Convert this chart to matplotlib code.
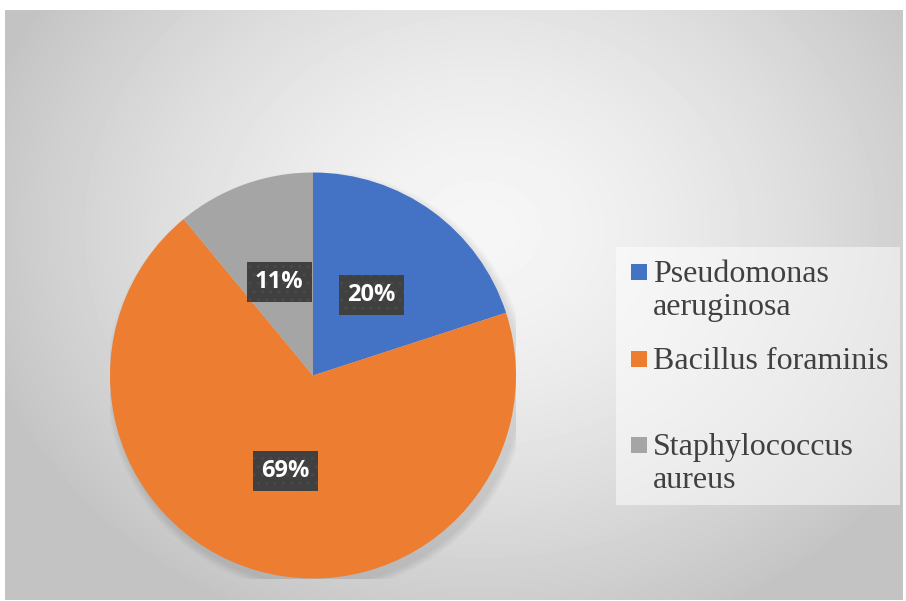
import numpy as np
import matplotlib.pyplot as plt
from matplotlib.patches import Rectangle, Circle

labels = ["Pseudomonas\naeruginosa", "Bacillus foraminis", "Staphylococcus\naureus"]
shares = [20, 69, 11]
colors = ["#4472c4", "#ed7d31", "#a5a5a5"]

W, H = 906, 601
fig = plt.figure(figsize=(W / 100, H / 100), dpi=100)
fig.patch.set_facecolor("white")

# chart area with radial gray gradient
x0, y0, x1, y1 = 5, 10, 903, 600
bg = fig.add_axes([x0 / W, 1 - y1 / H, (x1 - x0) / W, (y1 - y0) / H])
bg.axis("off")
yy, xx = np.mgrid[y0:y1, x0:x1]
d = np.sqrt(((xx - 480) / 520.0) ** 2 + ((yy - 230) / 430.0) ** 2)
d = np.clip(d, 0, 1)
shade = 0.965 - 0.2 * d ** 1.5
bg.imshow(shade, cmap="gray", vmin=0, vmax=1, aspect="auto", interpolation="bilinear")

# pie
cx, cy, r = 313, 375.5, 203
ax = fig.add_axes([(cx - r) / W, 1 - (cy + r) / H, 2 * r / W, 2 * r / H])

# soft shadow
for i in range(8):
    ax.add_patch(Circle((0.02, -0.03), 1.0 + 0.005 * (8 - i), color="black",
                        alpha=0.01, lw=0, zorder=0))

wedges, texts, autotexts = ax.pie(
    shares, colors=colors, startangle=90, counterclock=False, radius=1,
    autopct="%d%%", pctdistance=0.49,
    wedgeprops=dict(linewidth=0), frame=False)
ax.set_xlim(-1, 1)
ax.set_ylim(-1, 1)
ax.set_aspect("equal")
ax.axis("off")

for t in autotexts:
    t.set_color("white")
    t.set_fontfamily("Open Sans")
    t.set_fontweight("bold")
    t.set_fontsize(17)
    t.set_bbox(dict(boxstyle="square,pad=0.35", fc="#404040", ec="#4a4a4a",
                    lw=0, hatch=".."))

# legend box (drawn by hand to follow the uneven Excel spacing)
lx0, ly0, lx1, ly1 = 616, 247, 900, 505
fig.patches.append(Rectangle((lx0 / W, 1 - ly1 / H), (lx1 - lx0) / W, (ly1 - ly0) / H,
                             transform=fig.transFigure, fc="white", alpha=0.5, lw=0))
rows = [272, 359, 445]
for lab, col, ry in zip(labels, colors, rows):
    fig.patches.append(Rectangle((631 / W, 1 - (ry + 8) / H), 16 / W, 16 / H,
                                 transform=fig.transFigure, fc=col, lw=0))
    fig.text(653 / W, 1 - (ry - 12) / H, lab, family="Liberation Serif", fontsize=23,
             color="#404040", va="top", ha="left", linespacing=1.2)

fig.savefig("out.png", dpi=100)
